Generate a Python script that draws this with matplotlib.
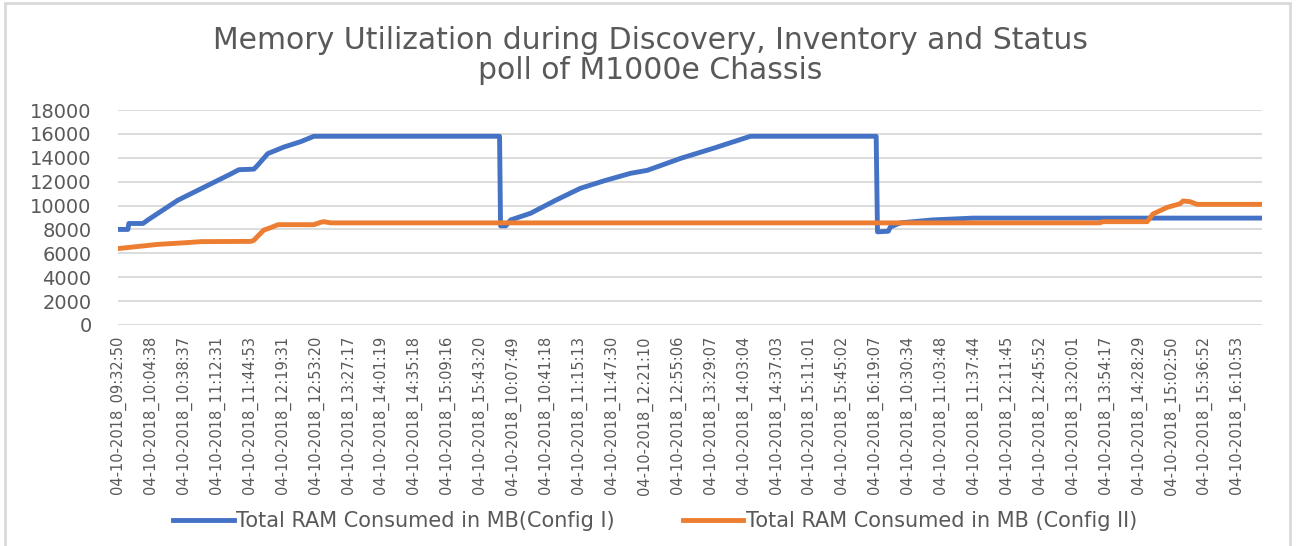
import matplotlib.pyplot as plt
from matplotlib.patches import Rectangle

# category labels shown on the x axis (every N-th sample in the source sheet)
tick_labels = [
    "04-10-2018_09:32:50", "04-10-2018_10:04:38", "04-10-2018_10:38:37",
    "04-10-2018_11:12:31", "04-10-2018_11:44:53", "04-10-2018_12:19:31",
    "04-10-2018_12:53:20", "04-10-2018_13:27:17", "04-10-2018_14:01:19",
    "04-10-2018_14:35:18", "04-10-2018_15:09:16", "04-10-2018_15:43:20",
    "04-10-2018_10:07:49", "04-10-2018_10:41:18", "04-10-2018_11:15:13",
    "04-10-2018_11:47:30", "04-10-2018_12:21:10", "04-10-2018_12:55:06",
    "04-10-2018_13:29:07", "04-10-2018_14:03:04", "04-10-2018_14:37:03",
    "04-10-2018_15:11:01", "04-10-2018_15:45:02", "04-10-2018_16:19:07",
    "04-10-2018_10:30:34", "04-10-2018_11:03:48", "04-10-2018_11:37:44",
    "04-10-2018_12:11:45", "04-10-2018_12:45:52", "04-10-2018_13:20:01",
    "04-10-2018_13:54:17", "04-10-2018_14:28:29", "04-10-2018_15:02:50",
    "04-10-2018_15:36:52", "04-10-2018_16:10:53",
]

# positions in tick units (0 = first label), values in MB
config1_x = [0, 0.30, 0.33, 0.76, 0.91, 1.82, 3.43, 3.67, 4.13, 4.25, 4.55,
             5.04, 5.55, 5.95, 11.59, 11.62, 11.78, 11.93, 12.53, 13.30, 14.05,
             14.80, 15.57, 16.08, 17.09, 18.09, 19.21, 23.03, 23.07, 23.40,
             23.46, 23.76, 24.76, 25.98, 34.75]
config1_y = [8000, 8000, 8500, 8500, 8800, 10450, 12650, 13000, 13050, 13400,
             14350, 14900, 15350, 15800, 15800, 8300, 8300, 8800, 9350, 10450,
             11450, 12100, 12700, 12950, 13950, 14800, 15800, 15800, 7800,
             7850, 8200, 8550, 8800, 8950, 8950]

config2_x = [0, 0.70, 1.21, 2.12, 2.52, 4.04, 4.13, 4.25, 4.43, 4.64, 4.86,
             5.95, 6.16, 6.25, 6.46, 29.83, 29.89, 31.26, 31.44, 31.87, 32.26,
             32.35, 32.56, 32.78, 34.75]
config2_y = [6400, 6600, 6750, 6900, 6980, 7000, 7100, 7450, 7950, 8150, 8400,
             8400, 8600, 8650, 8550, 8550, 8650, 8650, 9300, 9850, 10150,
             10380, 10330, 10100, 10100]

series_names = ["Total RAM Consumed in MB(Config I)",
                "Total RAM Consumed in MB (Config II)"]

grey = '#595959'

fig = plt.figure(figsize=(12.96, 5.46), dpi=100)
fig.patch.set_facecolor('white')
ax = fig.add_axes([118 / 1296, 1 - 325 / 546, (1262 - 118) / 1296, 215 / 546])

ax.plot(config1_x, config1_y, color='#4472C4', lw=3.5, solid_joinstyle='round',
        label=series_names[0])
ax.plot(config2_x, config2_y, color='#ED7D31', lw=3.5, solid_joinstyle='round',
        label=series_names[1])

ax.set_xlim(0, 34.75)
ax.set_ylim(0, 18000)
ax.set_yticks(range(0, 18001, 2000))
ax.set_xticks(range(len(tick_labels)))
ax.set_xticklabels(tick_labels, rotation=90, fontsize=10.5, color=grey)
ax.tick_params(axis='y', length=0, pad=19, labelsize=14, labelcolor=grey)
ax.tick_params(axis='x', length=0, pad=8)
ax.yaxis.grid(True, color='#D9D9D9', lw=1.3)
ax.set_axisbelow(True)
for s in ax.spines.values():
    s.set_visible(False)

fig.text(0.502, 0.898, "Memory Utilization during Discovery, Inventory and Status\npoll of M1000e Chassis",
         ha='center', va='center', fontsize=21.5, color=grey, family='DejaVu Sans',
         linespacing=1.05)

fig.legend(loc='center', bbox_to_anchor=(655 / 1296, 1 - 521 / 546), ncol=2,
           frameon=False, fontsize=15, labelcolor=grey, handlelength=2.9,
           handletextpad=0.1, columnspacing=3.3)

# outer chart frame
fig.patches.append(Rectangle((5 / 1296, -0.02), 1285 / 1296, 1.02 - 3 / 546,
                             transform=fig.transFigure, fill=False,
                             edgecolor='#D9D9D9', lw=2))

fig.savefig('out.png', dpi=100)
